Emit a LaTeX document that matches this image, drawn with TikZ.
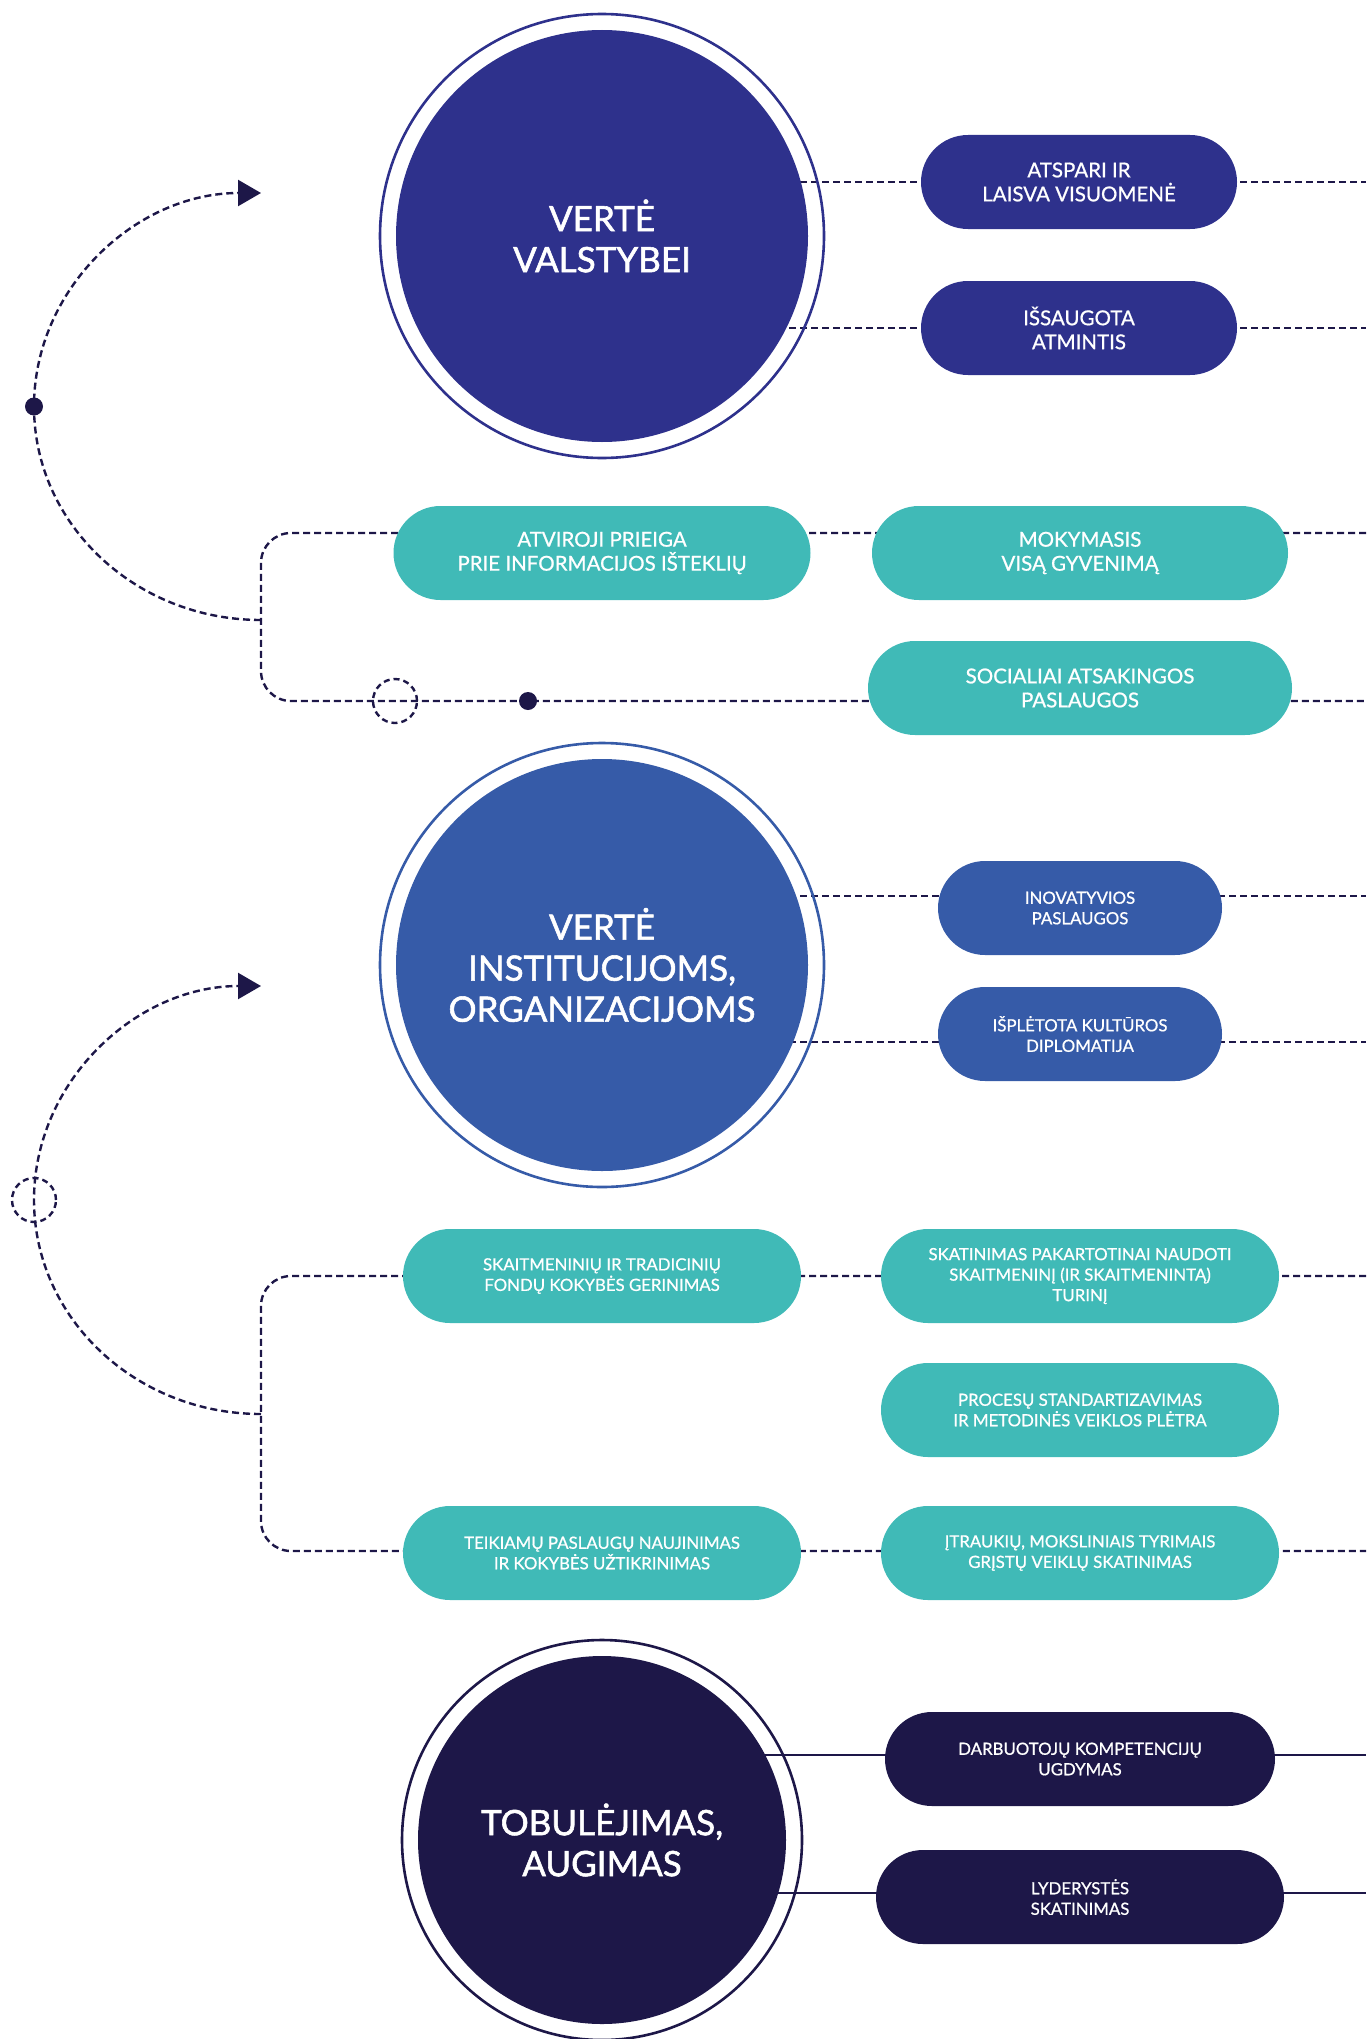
\documentclass[tikz,border=0pt]{standalone}
\usepackage{fontspec}
\setmainfont{Lato}
\newfontfamily\medfont{Lato}[FakeBold=0.8]
\newfontfamily\hubfont{Lato}[FakeBold=1.6]
\usetikzlibrary{arrows.meta,backgrounds}
\definecolor{indigoA}{RGB}{46,49,140}
\definecolor{blueB}{RGB}{54,91,168}
\definecolor{tealC}{RGB}{64,186,183}
\definecolor{navyD}{RGB}{29,23,72}
\tikzset{
  link/.style={navyD,line width=2.4pt,dash pattern=on 7pt off 4pt},
  solidlink/.style={navyD,line width=2.4pt},
  pill/.style={rectangle,rounded corners=47pt,minimum height=94pt,inner sep=0pt,text=white,align=center},
  bigtxt/.style={font=\medfont\fontsize{20.5}{24}\selectfont},
  smalltxt/.style={font=\medfont\fontsize{16.8}{20.5}\selectfont},
  hub/.style={circle,inner sep=0pt,text=white,align=center,font=\hubfont\fontsize{35}{41}\selectfont},
  dot/.style={circle,fill=navyD,inner sep=0pt,minimum size=18pt},
  hole/.style={circle,draw=navyD,line width=2.4pt,dash pattern=on 6pt off 4pt,inner sep=0pt,minimum size=44pt},
  tip/.style={-{Triangle[length=23pt,width=26pt]}},
}
\begin{document}
\begin{tikzpicture}[x=1pt,y=-1pt]
\useasboundingbox (0,0) rectangle (1366,2039);
% hubs
\node[hub,fill=indigoA,minimum size=412pt] (hub1) at (602,236) {VERTĖ\\VALSTYBEI};
\node[hub,fill=blueB,minimum size=412pt] (hub2) at (602,965) {VERTĖ\\INSTITUCIJOMS,\\ORGANIZACIJOMS};
\node[hub,fill=navyD,minimum size=368pt] (hub3) at (602,1840) {TOBULĖJIMAS,\\AUGIMAS};
\draw[indigoA,line width=2.6pt] (hub1) circle (222pt);
\draw[blueB,line width=2.6pt] (hub2) circle (222pt);
\draw[navyD,line width=2.6pt] (hub3) circle (200pt);
% value for the state
\node[pill,bigtxt,fill=indigoA,minimum width=316pt] (state1) at (1079,182) {ATSPARI IR\\LAISVA VISUOMENĖ};
\node[pill,bigtxt,fill=indigoA,minimum width=316pt] (state2) at (1079,328) {IŠSAUGOTA\\ATMINTIS};
\node[pill,bigtxt,fill=tealC,minimum width=417pt] (open1) at (602,553) {ATVIROJI PRIEIGA\\PRIE INFORMACIJOS IŠTEKLIŲ};
\node[pill,bigtxt,fill=tealC,minimum width=416pt] (open2) at (1080,553) {MOKYMASIS\\VISĄ GYVENIMĄ};
\node[pill,bigtxt,fill=tealC,minimum width=424pt] (open3) at (1080,688) {SOCIALIAI ATSAKINGOS\\PASLAUGOS};
% value for institutions
\node[pill,smalltxt,fill=blueB,minimum width=284pt] (inst1) at (1080,908) {INOVATYVIOS\\PASLAUGOS};
\node[pill,smalltxt,fill=blueB,minimum width=284pt] (inst2) at (1080,1034) {IŠPLĖTOTA KULTŪROS\\DIPLOMATIJA};
\node[pill,smalltxt,fill=tealC,minimum width=398pt] (fund1) at (602,1276) {SKAITMENINIŲ IR TRADICINIŲ\\FONDŲ KOKYBĖS GERINIMAS};
\node[pill,smalltxt,fill=tealC,minimum width=398pt] (fund2) at (1080,1276) {SKATINIMAS PAKARTOTINAI NAUDOTI\\SKAITMENINĮ (IR SKAITMENINTĄ)\\TURINĮ};
\node[pill,smalltxt,fill=tealC,minimum width=398pt] (fund3) at (1080,1410) {PROCESŲ STANDARTIZAVIMAS\\IR METODINĖS VEIKLOS PLĖTRA};
\node[pill,smalltxt,fill=tealC,minimum width=398pt] (fund4) at (602,1553) {TEIKIAMŲ PASLAUGŲ NAUJINIMAS\\IR KOKYBĖS UŽTIKRINIMAS};
\node[pill,smalltxt,fill=tealC,minimum width=398pt] (fund5) at (1080,1553) {ĮTRAUKIŲ, MOKSLINIAIS TYRIMAIS\\GRĮSTŲ VEIKLŲ SKATINIMAS};
% growth
\node[pill,smalltxt,fill=navyD,minimum width=390pt] (grow1) at (1080,1759) {DARBUOTOJŲ KOMPETENCIJŲ\\UGDYMAS};
\node[pill,smalltxt,fill=navyD,minimum width=408pt] (grow2) at (1080,1897) {LYDERYSTĖS\\SKATINIMAS};
% loose ends
\coordinate (e1) at (1366,182);
\coordinate (e2) at (1366,328);
\coordinate (e3) at (1366,533);
\coordinate (e4) at (1366,701);
\coordinate (e5) at (1366,896);
\coordinate (e6) at (1366,1042);
\coordinate (e7) at (1366,1276);
\coordinate (e8) at (1366,1551);
\coordinate (e9) at (1366,1755);
\coordinate (e10) at (1366,1893);
\coordinate (k1) at (261,533);
\coordinate (k2) at (261,701);
\coordinate (k3) at (261,1276);
\coordinate (k4) at (261,1551);
\coordinate (a1) at (261,620);
\coordinate (a2) at (261,1414);
\node[dot] (d1) at (34,406.5) {};
\node[hole] (h1) at (395,701) {};
\node[dot] (d2) at (528,701) {};
\node[hole] (h2) at (34,1200) {};
\begin{pgfonlayer}{background}
\foreach \h/\e in {hub1/e1,hub1/e2,hub2/e5,hub2/e6}
  \draw[link] (\h |- \e) -- (\e);
\foreach \h/\e in {hub3/e9,hub3/e10}
  \draw[solidlink] (\h |- \e) -- (\e);
\draw[link,rounded corners=30pt] (e3) -- (k1) -- (k2) -- (e4);
\draw[link,rounded corners=30pt] (e7) -- (k3) -- (k4) -- (e8);
\end{pgfonlayer}
\draw[link,tip] (a1) arc[start angle=270,end angle=90,x radius=227pt,y radius=213.5pt];
\draw[link,tip] (a2) arc[start angle=270,end angle=90,x radius=227pt,y radius=214pt];
\end{tikzpicture}
\end{document}
